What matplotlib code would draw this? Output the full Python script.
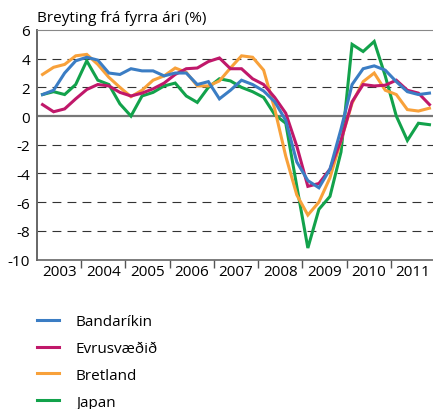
import matplotlib
matplotlib.use("Agg")
import matplotlib.pyplot as plt
import numpy as np

plt.rcParams['font.family'] = ['Open Sans', 'DejaVu Sans']
plt.rcParams['axes.unicode_minus'] = False

# quarterly data, 2003Q1 - 2011Q4
years = [2003, 2004, 2005, 2006, 2007, 2008, 2009, 2010, 2011]

bandarikin = [1.5, 1.8, 3.0, 3.85, 4.1, 3.9, 3.0, 2.9,
              3.3, 3.15, 3.15, 2.8, 3.0, 3.0, 2.2, 2.4,
              1.2, 1.8, 2.5, 2.2, 1.75, 1.0, -0.3, -3.2,
              -4.5, -5.0, -3.7, -0.9, 2.2, 3.3, 3.5, 3.2,
              2.4, 1.7, 1.5, 1.6]
evrusvaedid = [0.8, 0.3, 0.5, 1.2, 1.85, 2.2, 2.1, 1.65,
               1.4, 1.6, 1.9, 2.3, 2.9, 3.3, 3.35, 3.8,
               4.05, 3.3, 3.3, 2.6, 2.2, 1.3, 0.2, -2.1,
               -4.9, -4.7, -3.7, -1.7, 1.0, 2.2, 2.1, 2.15,
               2.5, 1.8, 1.6, 0.8]
bretland = [2.9, 3.4, 3.6, 4.2, 4.3, 3.6, 2.7, 2.0,
            1.35, 1.8, 2.5, 2.8, 3.35, 3.05, 2.1, 2.1,
            2.45, 3.35, 4.2, 4.1, 3.2, 0.5, -2.8, -5.5,
            -6.9, -6.0, -4.3, -1.7, 0.9, 2.4, 3.0, 1.8,
            1.5, 0.45, 0.35, 0.55]
japan = [1.5, 1.7, 1.5, 2.2, 3.85, 2.5, 2.2, 0.85,
         0.0, 1.4, 1.65, 2.1, 2.3, 1.4, 0.95, 2.0,
         2.6, 2.45, 2.0, 1.7, 1.3, 0.1, -0.5, -4.9,
         -9.2, -6.5, -5.6, -2.5, 5.0, 4.5, 5.2, 2.8,
         0.0, -1.7, -0.5, -0.6]

series = [
    ('Bandaríkin', bandarikin, '#3b7dc4'),
    ('Evrusvæðið', evrusvaedid, '#c0186a'),
    ('Bretland', bretland, '#f8a13a'),
    ('Japan', japan, '#12a24b'),
]

x = years[0] + (np.arange(len(bandarikin)) + 0.5) / 4

W, H = 433, 410
fig = plt.figure(figsize=(W / 100, H / 100), dpi=100)
ax = fig.add_axes([37 / W, (H - 260.5) / H, (435 - 37) / W, (260.5 - 31) / H])

# grid
for v in [4, 2, -2, -4, -6, -8]:
    ax.axhline(v, color='#333333', lw=0.8, ls=(0, (8, 5.5)), zorder=1)
ax.axhline(0, color='#777777', lw=1.6, zorder=1)

# draw japan first so blue ends on top
for name, vals, col in reversed(series):
    ax.plot(x, vals, color=col, lw=2.2, label=name, solid_joinstyle='miter')

ax.set_xlim(years[0], years[-1] + 1)
ax.set_ylim(-10, 6)
ax.set_yticks(range(-10, 7, 2))
ax.set_yticklabels([str(v) for v in range(-10, 7, 2)])
ax.tick_params(axis='y', length=0, pad=5, labelsize=11)

ax.set_xticks(years[1:], minor=False)
ax.set_xticklabels([])
ax.set_xticks([y + 0.5 for y in years], minor=True)
ax.set_xticklabels([str(y) for y in years], minor=True)
ax.tick_params(axis='x', which='major', length=6, width=1, color='#555555', direction='out')
ax.tick_params(axis='x', which='minor', length=0, pad=3, labelsize=11)

ax.spines['right'].set_visible(False)
ax.spines['left'].set_color('#666666')
ax.spines['left'].set_linewidth(1.4)
ax.spines['bottom'].set_color('#666666')
ax.spines['bottom'].set_linewidth(1.2)
ax.spines['top'].set_color('#888888')
ax.spines['top'].set_linewidth(0.8)

fig.text(37 / W, 1 - 21.5 / H, 'Breyting frá fyrra ári (%)', fontsize=11,
         va='baseline', ha='left')

handles, labels = ax.get_legend_handles_labels()
order = [labels.index(n) for n, _, _ in series]
fig.legend([handles[i] for i in order], [labels[i] for i in order],
           loc='upper left', bbox_to_anchor=(37 / W, 1 - 315 / H),
           frameon=False, fontsize=11, handlelength=1.45, handletextpad=1.1,
           labelspacing=0.78, borderpad=0, borderaxespad=0)

fig.savefig('out.png', dpi=100)
